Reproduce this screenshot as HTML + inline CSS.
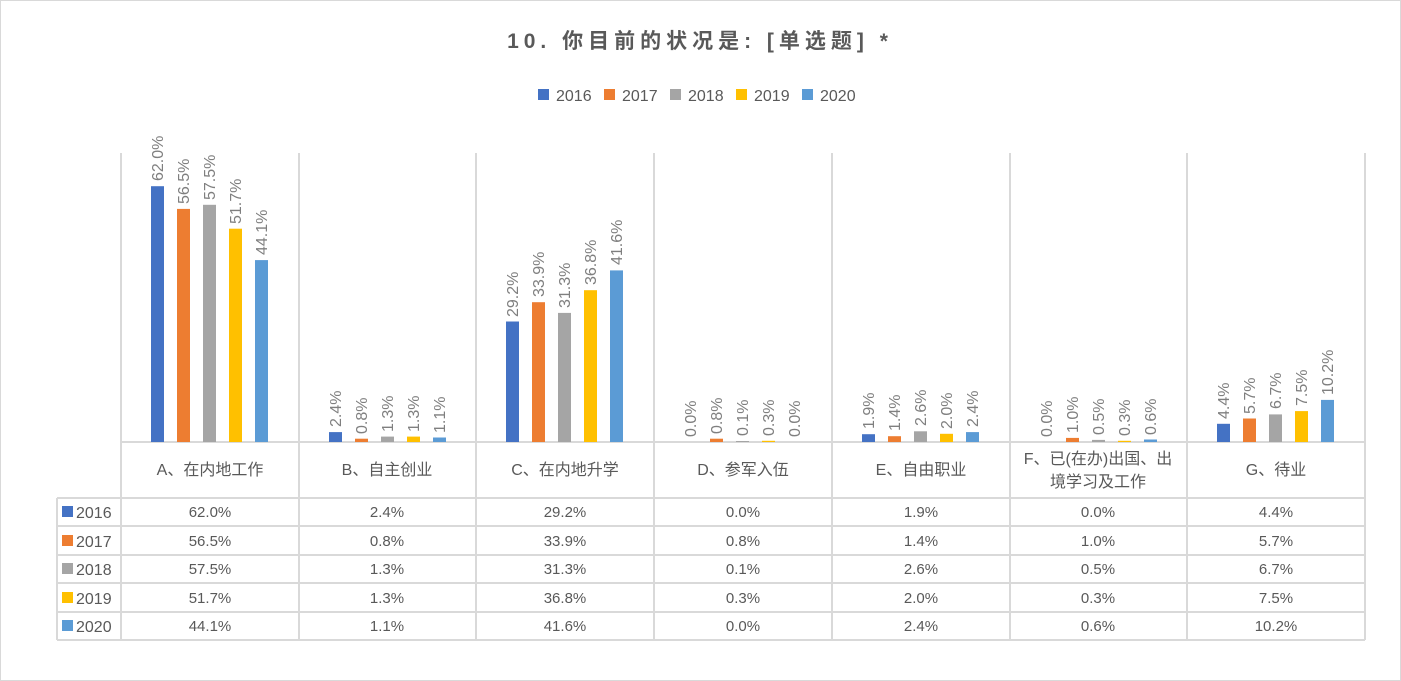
<!DOCTYPE html>
<html><head><meta charset="utf-8"><style>
body{margin:0;background:#fff}
svg{display:block;font-family:"Liberation Sans","Noto Sans CJK SC",sans-serif}
.l{font-size:16px;fill:#7f7f7f}
.t{font-size:15px;fill:#595959;text-anchor:middle}
.c{font-size:16px;fill:#595959;text-anchor:middle}
</style></head><body>
<svg width="1401" height="681" viewBox="0 0 1401 681">
<rect x="0.5" y="0.5" width="1400" height="680" fill="#fff" stroke="#d9d9d9"/>
<text x="700" y="48" text-anchor="middle" font-size="21" font-weight="bold" fill="#595959" letter-spacing="5">10. 你目前的状况是: [单选题] *</text>
<g font-size="16" fill="#595959">
<rect x="538" y="89" width="11" height="11" fill="#4472c4"/><text x="556" y="101">2016</text>
<rect x="604" y="89" width="11" height="11" fill="#ed7d31"/><text x="622" y="101">2017</text>
<rect x="670" y="89" width="11" height="11" fill="#a5a5a5"/><text x="688" y="101">2018</text>
<rect x="736" y="89" width="11" height="11" fill="#ffc000"/><text x="754" y="101">2019</text>
<rect x="802" y="89" width="11" height="11" fill="#5b9bd5"/><text x="820" y="101">2020</text>
</g>
<g stroke="#d9d9d9" stroke-width="2">
<line x1="121" y1="153" x2="121" y2="640"/><line x1="299" y1="153" x2="299" y2="640"/><line x1="476" y1="153" x2="476" y2="640"/><line x1="654" y1="153" x2="654" y2="640"/><line x1="832" y1="153" x2="832" y2="640"/><line x1="1010" y1="153" x2="1010" y2="640"/><line x1="1187" y1="153" x2="1187" y2="640"/><line x1="1365" y1="153" x2="1365" y2="640"/>
<line x1="57" y1="498" x2="57" y2="640"/>
<line x1="121" y1="442" x2="1365" y2="442"/>
<line x1="57" y1="498" x2="1365" y2="498"/><line x1="57" y1="526" x2="1365" y2="526"/><line x1="57" y1="555" x2="1365" y2="555"/><line x1="57" y1="583" x2="1365" y2="583"/><line x1="57" y1="612" x2="1365" y2="612"/><line x1="57" y1="640" x2="1365" y2="640"/>
</g>
<g>
<rect x="151" y="186.2" width="13" height="255.8" fill="#4472c4"/><rect x="177" y="208.9" width="13" height="233.1" fill="#ed7d31"/><rect x="203" y="204.8" width="13" height="237.2" fill="#a5a5a5"/><rect x="229" y="228.7" width="13" height="213.3" fill="#ffc000"/><rect x="255" y="260.1" width="13" height="181.9" fill="#5b9bd5"/>
<rect x="329" y="432.1" width="13" height="9.9" fill="#4472c4"/><rect x="355" y="438.7" width="13" height="3.3" fill="#ed7d31"/><rect x="381" y="436.6" width="13" height="5.4" fill="#a5a5a5"/><rect x="407" y="436.6" width="13" height="5.4" fill="#ffc000"/><rect x="433" y="437.5" width="13" height="4.5" fill="#5b9bd5"/>
<rect x="506" y="321.5" width="13" height="120.5" fill="#4472c4"/><rect x="532" y="302.2" width="13" height="139.8" fill="#ed7d31"/><rect x="558" y="312.9" width="13" height="129.1" fill="#a5a5a5"/><rect x="584" y="290.2" width="13" height="151.8" fill="#ffc000"/><rect x="610" y="270.4" width="13" height="171.6" fill="#5b9bd5"/>
<rect x="710" y="438.7" width="13" height="3.3" fill="#ed7d31"/><rect x="736" y="441" width="13" height="1" fill="#a5a5a5"/><rect x="762" y="440.8" width="13" height="1.2" fill="#ffc000"/>
<rect x="862" y="434.2" width="13" height="7.8" fill="#4472c4"/><rect x="888" y="436.2" width="13" height="5.8" fill="#ed7d31"/><rect x="914" y="431.3" width="13" height="10.7" fill="#a5a5a5"/><rect x="940" y="433.8" width="13" height="8.2" fill="#ffc000"/><rect x="966" y="432.1" width="13" height="9.9" fill="#5b9bd5"/>
<rect x="1066" y="437.9" width="13" height="4.1" fill="#ed7d31"/><rect x="1092" y="439.9" width="13" height="2.1" fill="#a5a5a5"/><rect x="1118" y="440.8" width="13" height="1.2" fill="#ffc000"/><rect x="1144" y="439.5" width="13" height="2.5" fill="#5b9bd5"/>
<rect x="1217" y="423.8" width="13" height="18.2" fill="#4472c4"/><rect x="1243" y="418.5" width="13" height="23.5" fill="#ed7d31"/><rect x="1269" y="414.4" width="13" height="27.6" fill="#a5a5a5"/><rect x="1295" y="411.1" width="13" height="30.9" fill="#ffc000"/><rect x="1321" y="399.9" width="13" height="42.1" fill="#5b9bd5"/>
</g>
<g class="l">
<text transform="translate(163 181) rotate(-90)">62.0%</text><text transform="translate(189 204) rotate(-90)">56.5%</text><text transform="translate(215 200) rotate(-90)">57.5%</text><text transform="translate(241 224) rotate(-90)">51.7%</text><text transform="translate(267 255) rotate(-90)">44.1%</text>
<text transform="translate(341 427) rotate(-90)">2.4%</text><text transform="translate(367 434) rotate(-90)">0.8%</text><text transform="translate(393 432) rotate(-90)">1.3%</text><text transform="translate(419 432) rotate(-90)">1.3%</text><text transform="translate(445 433) rotate(-90)">1.1%</text>
<text transform="translate(518 317) rotate(-90)">29.2%</text><text transform="translate(544 297) rotate(-90)">33.9%</text><text transform="translate(570 308) rotate(-90)">31.3%</text><text transform="translate(596 285) rotate(-90)">36.8%</text><text transform="translate(622 265) rotate(-90)">41.6%</text>
<text transform="translate(696 437) rotate(-90)">0.0%</text><text transform="translate(722 434) rotate(-90)">0.8%</text><text transform="translate(748 436) rotate(-90)">0.1%</text><text transform="translate(774 436) rotate(-90)">0.3%</text><text transform="translate(800 437) rotate(-90)">0.0%</text>
<text transform="translate(874 429) rotate(-90)">1.9%</text><text transform="translate(900 431) rotate(-90)">1.4%</text><text transform="translate(926 426) rotate(-90)">2.6%</text><text transform="translate(952 429) rotate(-90)">2.0%</text><text transform="translate(978 427) rotate(-90)">2.4%</text>
<text transform="translate(1052 437) rotate(-90)">0.0%</text><text transform="translate(1078 433) rotate(-90)">1.0%</text><text transform="translate(1104 435) rotate(-90)">0.5%</text><text transform="translate(1130 436) rotate(-90)">0.3%</text><text transform="translate(1156 435) rotate(-90)">0.6%</text>
<text transform="translate(1229 419) rotate(-90)">4.4%</text><text transform="translate(1255 414) rotate(-90)">5.7%</text><text transform="translate(1281 409) rotate(-90)">6.7%</text><text transform="translate(1307 406) rotate(-90)">7.5%</text><text transform="translate(1333 395) rotate(-90)">10.2%</text>
</g>
<g class="c">
<text x="210" y="475">A、在内地工作</text><text x="387" y="475">B、自主创业</text><text x="565" y="475">C、在内地升学</text><text x="743" y="475">D、参军入伍</text><text x="921" y="475">E、自由职业</text>
<text x="1098" y="464">F、已(在办)出国、出</text><text x="1098" y="487">境学习及工作</text>
<text x="1276" y="475">G、待业</text>
</g>
<g font-size="16" fill="#595959">
<rect x="62" y="506" width="11" height="11" fill="#4472c4"/><text x="76" y="518">2016</text>
<rect x="62" y="535" width="11" height="11" fill="#ed7d31"/><text x="76" y="547">2017</text>
<rect x="62" y="563" width="11" height="11" fill="#a5a5a5"/><text x="76" y="575">2018</text>
<rect x="62" y="592" width="11" height="11" fill="#ffc000"/><text x="76" y="604">2019</text>
<rect x="62" y="620" width="11" height="11" fill="#5b9bd5"/><text x="76" y="632">2020</text>
</g>
<g class="t">
<text x="210" y="517">62.0%</text><text x="387" y="517">2.4%</text><text x="565" y="517">29.2%</text><text x="743" y="517">0.0%</text><text x="921" y="517">1.9%</text><text x="1098" y="517">0.0%</text><text x="1276" y="517">4.4%</text>
<text x="210" y="546">56.5%</text><text x="387" y="546">0.8%</text><text x="565" y="546">33.9%</text><text x="743" y="546">0.8%</text><text x="921" y="546">1.4%</text><text x="1098" y="546">1.0%</text><text x="1276" y="546">5.7%</text>
<text x="210" y="574">57.5%</text><text x="387" y="574">1.3%</text><text x="565" y="574">31.3%</text><text x="743" y="574">0.1%</text><text x="921" y="574">2.6%</text><text x="1098" y="574">0.5%</text><text x="1276" y="574">6.7%</text>
<text x="210" y="603">51.7%</text><text x="387" y="603">1.3%</text><text x="565" y="603">36.8%</text><text x="743" y="603">0.3%</text><text x="921" y="603">2.0%</text><text x="1098" y="603">0.3%</text><text x="1276" y="603">7.5%</text>
<text x="210" y="631">44.1%</text><text x="387" y="631">1.1%</text><text x="565" y="631">41.6%</text><text x="743" y="631">0.0%</text><text x="921" y="631">2.4%</text><text x="1098" y="631">0.6%</text><text x="1276" y="631">10.2%</text>
</g>
</svg>
</body></html>
